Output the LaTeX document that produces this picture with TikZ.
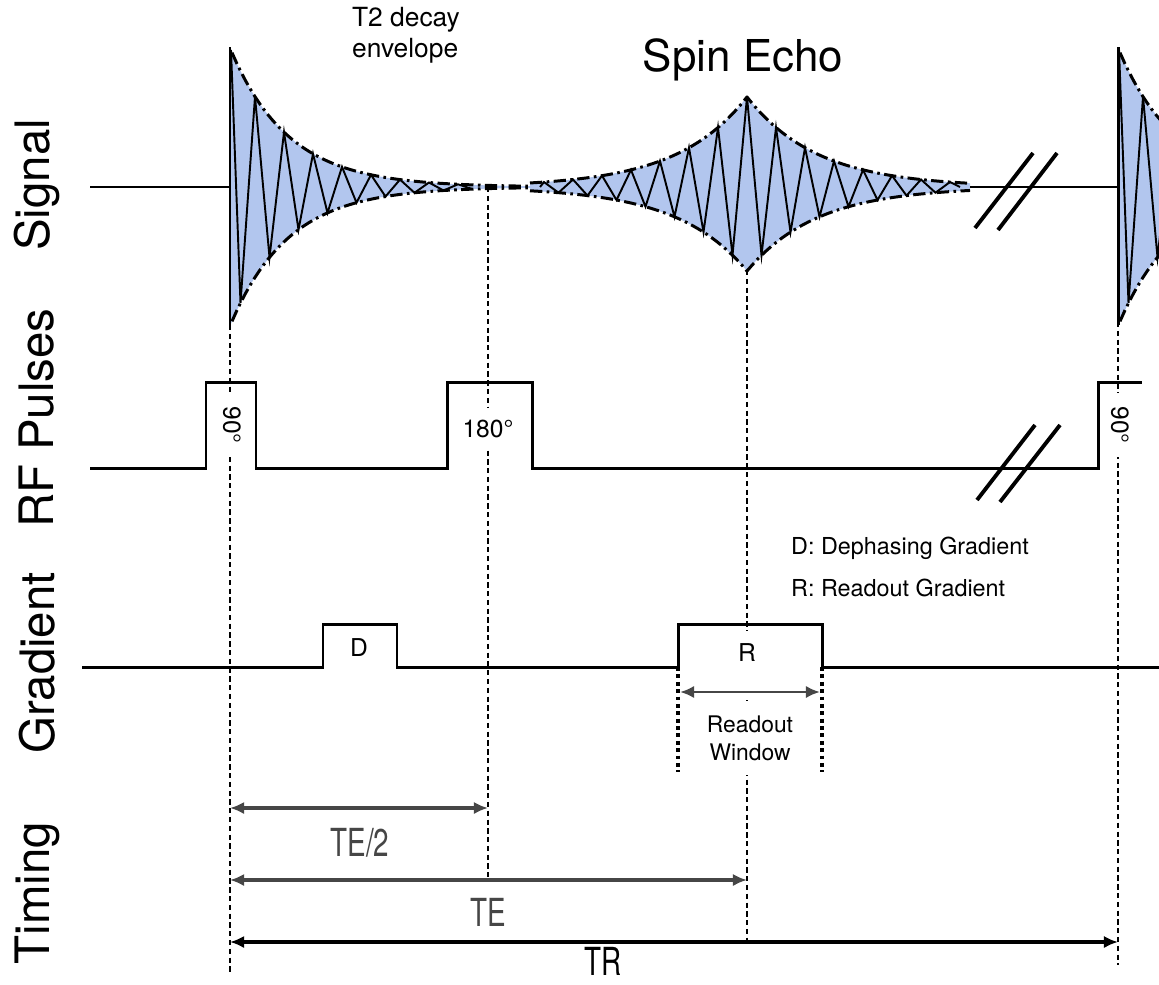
\documentclass[tikz,border=0pt]{standalone}
\usepackage{fontspec}
\setmainfont{TeX Gyre Heros}
\usetikzlibrary{arrows.meta}
\definecolor{sigfill}{RGB}{178,198,238}
\definecolor{tgray}{RGB}{70,70,70}
\begin{document}
\begin{tikzpicture}[x=0.02cm, y=-0.02cm,
  wave/.style={line width=1.7pt, line join=miter},
  zig/.style={line width=1.1pt, line join=miter},
  env/.style={line width=1.7pt, dash pattern=on 7pt off 2.5pt on 1.5pt off 2.5pt},
  guide/.style={line width=0.7pt, dash pattern=on 3pt off 2pt},
  brk/.style={line width=2.2pt},
  rodot/.style={line width=2.2pt, dash pattern=on 2.2pt off 2pt},
  tarr/.style={line width=1.8pt, tgray, {Latex[length=8pt,width=7pt]}-{Latex[length=8pt,width=7pt]}},
  rowlbl/.style={rotate=90, font=\fontsize{27}{31}\selectfont},
  pbox/.style={fill=white, inner sep=2pt, font=\fontsize{14}{17}\selectfont},
  tlbl/.style={tgray, font=\fontsize{22}{26}\selectfont}]
\useasboundingbox (0,0) rectangle (1159,984);
% moments of the sequence
\coordinate (t90) at (230,0);
\coordinate (t180) at (488,0);
\coordinate (tE) at (747,0);
\coordinate (tR) at (1118,0);
% row names
\node[rowlbl] (sig) at (37,185) {Signal};
\node[rowlbl] (rf) at (37,418) {RF Pulses};
\node[rowlbl] (grad) at (37,663) {Gradient};
\node[rowlbl] (tim) at (37,893) {Timing};
% FID after each 90 pulse
\foreach \off in {0,888} {
\begin{scope}[shift={(\off,0)}]
\fill[sigfill] plot[domain=230:545, samples=70] (\x,{187-139*exp(-(\x-230)/58)})
  -- plot[domain=545:230, samples=70] (\x,{187+139*exp(-(\x-230)/58)}) -- cycle;
\draw[zig] (231,50) \foreach \k in {1,...,17} { -- ({226+14.5*\k},{187+(2*mod(\k,2)-1)*139*exp(-(14.5*\k-4)/58)}) };
\draw[env] plot[domain=232:545, samples=70] (\x,{187-139*exp(-(\x-230)/58)});
\draw[env] plot[domain=232:545, samples=70] (\x,{187+139*exp(-(\x-230)/58)});
\draw[wave] (230,47) -- (230,325);
\end{scope}
}
% spin echo
\fill[sigfill] plot[domain=530:747, samples=45] (\x,{187-90*exp((\x-747)/70)})
  -- plot[domain=747:970, samples=45] (\x,{187-90*exp(-(\x-747)/70)})
  -- plot[domain=970:747, samples=45] (\x,{187+84*exp(-(\x-747)/70)})
  -- plot[domain=747:530, samples=45] (\x,{187+84*exp((\x-747)/70)}) -- cycle;
\draw[zig] (540,187) \foreach \k in {-14,...,14} { -- ({747+14.5*\k},{187+(mod(abs(\k),2)*174-90)*exp(-abs(14.5*\k)/70)}) } -- (960,187);
\draw[env] plot[domain=530:747, samples=45] (\x,{187-90*exp((\x-747)/70)})
  -- plot[domain=747:970, samples=45] (\x,{187-90*exp(-(\x-747)/70)});
\draw[env] plot[domain=530:747, samples=45] (\x,{187+84*exp((\x-747)/70)})
  -- plot[domain=747:970, samples=45] (\x,{187+84*exp(-(\x-747)/70)});
% signal baseline
\draw[wave] (90,187) -- (t90 |- 0,187);
\draw[wave] (970,187) -- (tR |- 0,187);
% guide lines
\draw[guide] (230,325) -- (230,975);
\draw[guide] (488,187) -- (488,882);
\draw[guide] (747,270) -- (747,942);
\draw[guide] (1118,322) -- (1118,965);
% titles
\node[align=left, font=\fontsize{15}{17.5}\selectfont] (t2) at (406,35) {T2 decay\\envelope};
\node[font=\fontsize{25}{30}\selectfont] (se) at (743,60) {Spin Echo};
% pulse labels
\node[pbox, rotate=-90, minimum width=36pt, minimum height=23pt] (l90) at (232,425) {90°};
\node[pbox, minimum width=42pt, minimum height=24pt] (l180) at (488,429) {180°};
\node[pbox, rotate=-90, minimum width=36pt, minimum height=23pt] (l90b) at (1120,425) {90°};
\node[font=\fontsize{14}{17}\selectfont] (lD) at (359,648) {D};
\node[pbox, anchor=north, minimum width=20pt, text height=14pt, text depth=19pt, inner sep=3pt] (lR) at (747,631) {R};
\node[fill=white, align=center, font=\fontsize{13}{16}\selectfont, minimum height=42pt] (ro) at (750,738) {Readout\\Window};
% legend
\node[anchor=west, font=\fontsize{13.3}{16}\selectfont] (legD) at (785,548) {D: Dephasing Gradient};
\node[anchor=west, font=\fontsize{13.3}{16}\selectfont] (legR) at (785,588) {R: Readout Gradient};
% RF pulses
\draw[wave] (90,468) -- (206,468) -- (206,382) -- (256,382) -- (256,468) -- (447,468) -- (447,382)
  -- (532,382) -- (532,468) -- (1098,468) -- (1098,382) -- (1142,382);
% gradient
\draw[wave] (82,667) -- (323,667) -- (323,624) -- (397,624) -- (397,667) -- (678,667) -- (678,624)
  -- (822,624) -- (822,667) -- (1159,667);
% readout window
\draw[rodot] (678,667) -- (678,772);
\draw[rodot] (822,667) -- (822,772);
\coordinate (rol) at (680,692);
\coordinate (ror) at (820,692);
\draw[tarr, line width=1.5pt] (rol) -- (ror);
% break marks
\draw[brk] (975,228) -- (1033,153);
\draw[brk] (998,230) -- (1057,153);
\draw[brk] (977,500) -- (1035,425);
\draw[brk] (1000,502) -- (1060,425);
% timing
\draw[tarr] (t90 |- 0,808) -- (t180 |- 0,808);
\draw[tarr] (t90 |- 0,880) -- (tE |- 0,880);
\draw[tarr, black, line width=2pt] (t90 |- 0,942) -- (tR |- 0,942);
\node[tlbl] (lte2) at (360,843) {\scalebox{0.72}[1]{TE/2}};
\node[tlbl] (lte) at (488,912) {\scalebox{0.72}[1]{TE}};
\node[tlbl, black] (ltr) at (603,961) {\scalebox{0.72}[1]{TR}};
\end{tikzpicture}
\end{document}
